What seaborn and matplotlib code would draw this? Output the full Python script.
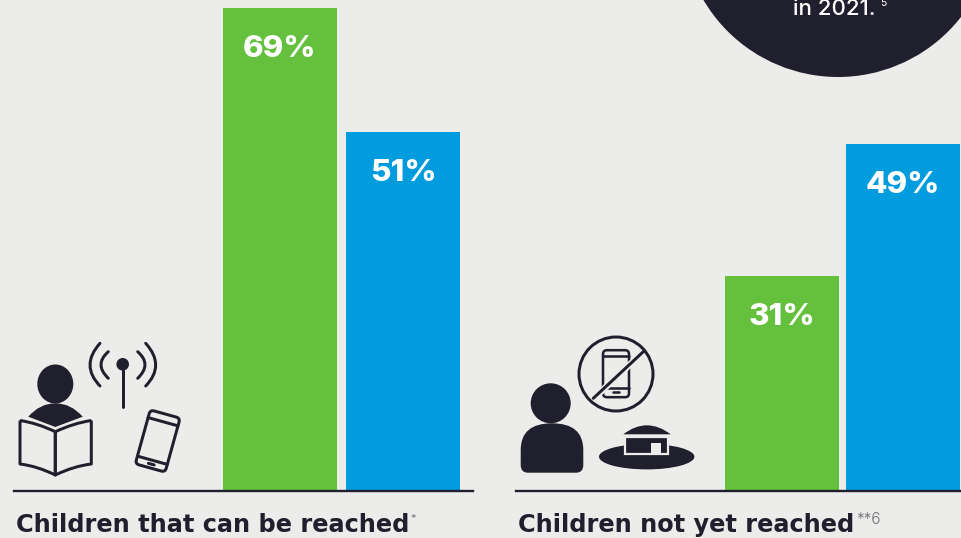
import matplotlib
matplotlib.use("Agg")
import matplotlib.pyplot as plt
import pandas as pd
import seaborn as sns
from matplotlib.patches import Circle, Ellipse, FancyBboxPatch, PathPatch, Rectangle
from matplotlib.path import Path
from matplotlib.transforms import Affine2D

BG = "#ECECEA"
INK = "#201F2D"
GREEN = "#65C13D"
BLUE = "#009CDE"

# data, heights (the artwork is not quite to scale)
groups = ["green", "blue"]
reached_values = [69, 51.2]
reached_labels = ["69%", "51%"]
not_reached_values = [30.7, 49.5]
not_reached_labels = ["31%", "49%"]
reached_title = "Children that can be reached"
not_reached_title = "Children not yet reached"

sns.set_theme(style="white", rc={"figure.facecolor": BG, "axes.facecolor": BG})
plt.rcParams["font.family"] = ["Inter", "DejaVu Sans"]

W, H = 962, 538
fig = plt.figure(figsize=(W / 100, H / 100), dpi=100)


def bar_panel(values, labels, left, right, center0, center1):
    # axes box given in pixels, bottom edge sits on the baseline
    base = 490.7
    ax = fig.add_axes([left / W, 1 - base / H, (right - left) / W, base / H])
    df = pd.DataFrame({"group": groups, "value": values})
    step = center1 - center0
    sns.barplot(
        data=df, x="group", y="value", hue="group", hue_order=groups,
        palette=[GREEN, BLUE], width=114 / step, dodge=False, saturation=1,
        legend=False, linewidth=0, edgecolor="none", ax=ax,
    )
    ax.set_xlim((left - center0) / step, (right - center0) / step)
    ax.set_ylim(0, base / 7.0)
    ax.set_xticks([])
    ax.set_yticks([])
    ax.set_xlabel("")
    ax.set_ylabel("")
    sns.despine(ax=ax, left=True)
    ax.spines["bottom"].set_color(INK)
    ax.spines["bottom"].set_linewidth(1.7)
    ax.spines["bottom"].set_zorder(5)
    for cont, lab in zip(ax.containers, labels):
        ax.bar_label(
            cont, labels=[lab], padding=-39.5, color="white",
            fontsize=22.5, fontweight=800,
        )
    return ax


bar_panel(reached_values, reached_labels, 13.5, 473, 280, 403)
bar_panel(not_reached_values, not_reached_labels, 516, 962, 782, 903)

# overlay in pixel coordinates for the circle, icons and captions
ov = fig.add_axes([0, 0, 1, 1], zorder=10)
ov.set_xlim(0, W)
ov.set_ylim(H, 0)
ov.axis("off")
ov.patch.set_alpha(0)

LW = 3 * 0.72


def curve(p0, mid, p2, lw=LW):
    # quadratic through mid
    ctrl = (2 * mid[0] - (p0[0] + p2[0]) / 2, 2 * mid[1] - (p0[1] + p2[1]) / 2)
    path = Path([p0, ctrl, p2], [Path.MOVETO, Path.CURVE3, Path.CURVE3])
    ov.add_patch(PathPatch(path, fc="none", ec=INK, lw=lw, capstyle="round"))


def phone(cx, cy, w, h, angle, lw, top, bottom, slot):
    tr = Affine2D().rotate_deg_around(cx, cy, angle) + ov.transData
    ov.add_patch(FancyBboxPatch(
        (cx - w / 2 + 4, cy - h / 2 + 4), w - 8, h - 8,
        boxstyle="round,pad=4,rounding_size=4", fc="none", ec=INK, lw=lw, transform=tr,
    ))
    for yy in (top, bottom):
        ov.plot([cx - w / 2, cx + w / 2], [cy + yy, cy + yy], color=INK, lw=lw, transform=tr)
    ov.plot([cx - 3, cx + 3], [cy + slot, cy + slot], color=INK, lw=lw, transform=tr,
            solid_capstyle="round")


# dark callout circle, cut by the top edge
ov.add_patch(Circle((838, -79), 156, fc=INK, ec="none"))
ov.text(793, 15, "in 2021.", color="white", fontsize=16, fontweight=500, ha="left", va="baseline")
ov.text(880, 6.5, "5", color="white", fontsize=7.5, ha="left", va="baseline")

# left icon: reader
ov.add_patch(Ellipse((55.3, 384), 36, 39, fc=INK, ec="none"))
shoulders = Path(
    [(28.3, 416.7), (40, 403.3), (55.3, 403.3), (71, 403.3), (82.7, 416.7), (55.3, 427), (28.3, 416.7)],
    [Path.MOVETO, Path.CURVE3, Path.CURVE3, Path.CURVE3, Path.CURVE3, Path.LINETO, Path.LINETO],
)
ov.add_patch(PathPatch(shoulders, fc=INK, ec="none"))
for x_out, c_in in ((20, 37), (91.3, 74)):
    page = Path(
        [(x_out, 420.5), (c_in, 423), (55.3, 431.7), (55.3, 475), (c_in, 466), (x_out, 464), (x_out, 420.5)],
        [Path.MOVETO, Path.CURVE3, Path.CURVE3, Path.LINETO, Path.CURVE3, Path.CURVE3, Path.LINETO],
    )
    ov.add_patch(PathPatch(page, fc="none", ec=INK, lw=LW, joinstyle="round"))

# antenna
ov.add_patch(Circle((122.7, 364.3), 6.3, fc=INK, ec="none"))
ov.plot([122.7, 122.7], [364, 407.3], color=INK, lw=LW, solid_capstyle="round")
curve((108.3, 351.7), (101, 364.7), (108.3, 378.3))
curve((100, 343.3), (90, 365), (100, 386))
curve((137.7, 351.7), (145, 364.7), (137.7, 378.3))
curve((145.7, 343.3), (155.7, 365), (145.7, 386))
phone(157.7, 441, 31, 56, 15.5, LW, -20, 20, 24)

# right icon: child without phone, house
ov.add_patch(Circle((550.7, 403.3), 20, fc=INK, ec="none"))
body = Path(
    [(528, 472.7), (520.7, 472.7), (520.7, 465), (520.7, 450), (520.7, 423.3), (552, 423.3),
     (583.3, 423.3), (583.3, 450), (583.3, 465), (583.3, 472.7), (576, 472.7), (528, 472.7)],
    [Path.MOVETO, Path.CURVE3, Path.CURVE3, Path.LINETO, Path.CURVE3, Path.CURVE3,
     Path.CURVE3, Path.CURVE3, Path.LINETO, Path.CURVE3, Path.CURVE3, Path.LINETO],
)
ov.add_patch(PathPatch(body, fc=INK, ec="none"))

ov.add_patch(Circle((616, 374), 37, fc="none", ec=INK, lw=LW))
phone(616, 373.7, 26, 47, 0, LW * 0.85, -17.5, 14.5, 18)
ov.plot([600, 632], [392.5, 362.5], color=BG, lw=LW * 2.2)
ov.plot([593.3, 643.3], [398.3, 351.7], color=INK, lw=LW)

ov.add_patch(Ellipse((646.7, 456.7), 95.4, 25.4, fc=INK, ec="none"))
ov.add_patch(Rectangle((625.5, 437), 42.5, 17.3, fc=INK, ec=BG, lw=1.6))
ov.add_patch(Rectangle((651, 442.7), 9.7, 10.5, fc=BG, ec="none"))
roof = Path(
    [(623.3, 434.3), (635, 425.3), (646.7, 425.3), (659, 425.3), (670.7, 434.3), (623.3, 434.3)],
    [Path.MOVETO, Path.CURVE3, Path.CURVE3, Path.CURVE3, Path.CURVE3, Path.LINETO],
)
ov.add_patch(PathPatch(roof, fc=INK, ec="none"))

# captions, DejaVu bold is the closest in width to the wide original face
CAP = dict(color=INK, fontsize=17.3, fontweight="bold", family=["DejaVu Sans"], ha="left", va="baseline")
ov.text(16, 532, reached_title, **CAP)
ov.text(410.5, 522, "*", color="#77777F", fontsize=8, ha="left", va="baseline")
ov.text(518, 532, not_reached_title, **CAP)
ov.text(856, 524, "**6", color="#6F6F78", fontsize=11, fontweight=300, ha="left", va="baseline")

fig.savefig("out.png", dpi=100, facecolor=BG)
